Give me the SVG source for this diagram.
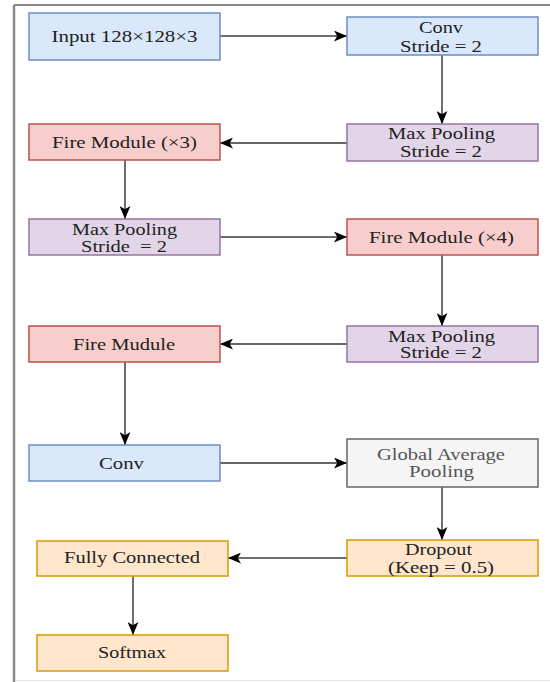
<svg xmlns="http://www.w3.org/2000/svg" width="550" height="682" viewBox="0 0 550 682">
  <style>
    .box { stroke-width: 1.5; }
    .blue { fill: #dae8fc; stroke: #6c8ebf; }
    .red { fill: #f8cecc; stroke: #b85450; }
    .purple { fill: #e1d5e7; stroke: #9673a6; }
    .gray { fill: #f5f5f5; stroke: #666666; }
    .orange { fill: #ffe6cc; stroke: #d79b00; }
    text { font-family: 'Liberation Serif', 'Times New Roman', 'DejaVu Serif', serif; font-size: 16px; fill: #222; text-anchor: middle; }
    text.muted { fill: #555; }
    .edge { fill: none; stroke: #6e6e6e; stroke-width: 2; marker-end: url(#arrow); }
    .edge.thin { stroke: #333; stroke-width: 1.5; }
  </style>
  <defs>
    <marker id="arrow" viewBox="0 0 12 10" refX="12" refY="5" markerWidth="13" markerHeight="11" markerUnits="userSpaceOnUse" orient="auto">
      <path d="M0,0 L12,5 L0,10 L3,5 Z" fill="#000"/>
    </marker>
  </defs>

  <rect width="550" height="682" fill="#fff"/>
  <!-- page frame -->
  <g id="frame">
    <line x1="14" y1="5" x2="550" y2="5" stroke="#8a8a8a" stroke-width="2"/>
    <line x1="14" y1="5" x2="14" y2="682" stroke="#8a8a8a" stroke-width="2.5"/>
    <line x1="15" y1="680.5" x2="550" y2="680.5" stroke="#e6e6e6" stroke-width="1"/>
  </g>

  <g id="connectors">
    <line class="edge" x1="220" y1="36" x2="347" y2="36"/>
    <line class="edge" x1="442" y1="55" x2="442" y2="124"/>
    <line class="edge thin" x1="347" y1="143" x2="220" y2="143"/>
    <line class="edge" x1="125" y1="160" x2="125" y2="219"/>
    <line class="edge" x1="220" y1="237" x2="347" y2="237"/>
    <line class="edge" x1="442" y1="255" x2="442" y2="326"/>
    <line class="edge thin" x1="347" y1="344" x2="220" y2="344"/>
    <line class="edge" x1="125" y1="362" x2="125" y2="445"/>
    <line class="edge thin" x1="220" y1="463" x2="347" y2="463"/>
    <line class="edge" x1="442" y1="487" x2="442" y2="540"/>
    <line class="edge" x1="347" y1="558" x2="228" y2="558"/>
    <line class="edge" x1="133" y1="576" x2="133" y2="635"/>
  </g>

  <g id="input">
    <rect class="box blue" x="29" y="13" width="191" height="47"/>
    <text x="124.5" y="42" textLength="146" lengthAdjust="spacingAndGlyphs">Input 128×128×3</text>
  </g>
  <g id="conv1">
    <rect class="box blue" x="347" y="17" width="191" height="38"/>
    <text x="441" y="33" textLength="44" lengthAdjust="spacingAndGlyphs">Conv</text>
    <text x="441" y="52" textLength="82" lengthAdjust="spacingAndGlyphs">Stride = 2</text>
  </g>
  <g id="maxpool1">
    <rect class="box purple" x="347" y="124" width="191" height="37"/>
    <text x="441.5" y="139" textLength="107" lengthAdjust="spacingAndGlyphs">Max Pooling</text>
    <text x="441" y="157" textLength="82" lengthAdjust="spacingAndGlyphs">Stride = 2</text>
  </g>
  <g id="fire3">
    <rect class="box red" x="29" y="124" width="191" height="36"/>
    <text x="124.5" y="148" textLength="145" lengthAdjust="spacingAndGlyphs">Fire Module (×3)</text>
  </g>
  <g id="maxpool2">
    <rect class="box purple" x="29" y="219" width="191" height="36"/>
    <text x="124.5" y="235" textLength="105" lengthAdjust="spacingAndGlyphs">Max Pooling</text>
    <text x="124" y="252" textLength="86" lengthAdjust="spacingAndGlyphs" xml:space="preserve">Stride  = 2</text>
  </g>
  <g id="fire4">
    <rect class="box red" x="347" y="219" width="191" height="36"/>
    <text x="441.5" y="243" textLength="145" lengthAdjust="spacingAndGlyphs">Fire Module (×4)</text>
  </g>
  <g id="maxpool3">
    <rect class="box purple" x="347" y="326" width="191" height="36"/>
    <text x="441.5" y="342" textLength="107" lengthAdjust="spacingAndGlyphs">Max Pooling</text>
    <text x="441" y="358" textLength="82" lengthAdjust="spacingAndGlyphs">Stride = 2</text>
  </g>
  <g id="fire">
    <rect class="box red" x="29" y="326" width="191" height="36"/>
    <text x="124" y="350" textLength="102" lengthAdjust="spacingAndGlyphs">Fire Mudule</text>
  </g>
  <g id="conv2">
    <rect class="box blue" x="29" y="445" width="191" height="36"/>
    <text x="121.5" y="469" textLength="45" lengthAdjust="spacingAndGlyphs">Conv</text>
  </g>
  <g id="gap">
    <rect class="box gray" x="347" y="439" width="191" height="48"/>
    <text class="muted" x="441" y="460" textLength="128" lengthAdjust="spacingAndGlyphs">Global Average</text>
    <text class="muted" x="441.5" y="477" textLength="65" lengthAdjust="spacingAndGlyphs">Pooling</text>
  </g>
  <g id="dropout">
    <rect class="box orange" x="347" y="540" width="191" height="36"/>
    <text x="438.5" y="555" textLength="67" lengthAdjust="spacingAndGlyphs">Dropout</text>
    <text x="441" y="573" textLength="106" lengthAdjust="spacingAndGlyphs">(Keep = 0.5)</text>
  </g>
  <g id="fully-connected">
    <rect class="box orange" x="37" y="541" width="191" height="35"/>
    <text x="132" y="563" textLength="136" lengthAdjust="spacingAndGlyphs">Fully Connected</text>
  </g>
  <g id="softmax">
    <rect class="box orange" x="37" y="635" width="191" height="36"/>
    <text x="132" y="658" textLength="68" lengthAdjust="spacingAndGlyphs">Softmax</text>
  </g>
</svg>
